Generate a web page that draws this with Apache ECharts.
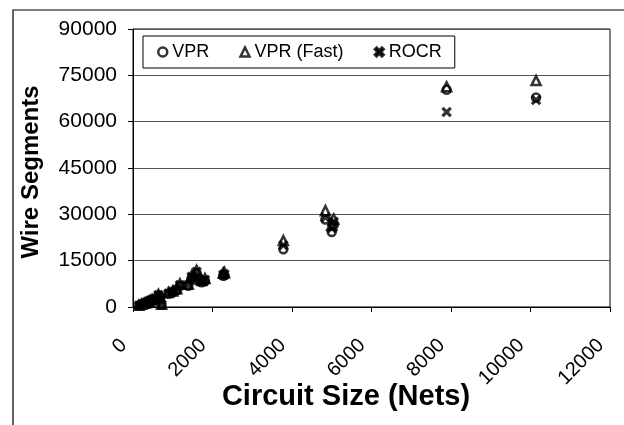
<!DOCTYPE html>
<html>
<head>
<meta charset="utf-8">
<script src="https://cdn.jsdelivr.net/npm/echarts@6/dist/echarts.min.js"></script>
<style>
html,body{margin:0;padding:0;background:#fff;}
#chart{width:624px;height:425px;}
</style>
</head>
<body>
<div id="chart"></div>
<script>
// Circuit sizes (nets) and wire segments per router
var circuitNets = [150, 220, 280, 330, 380, 430, 480, 560, 640, 720, 680, 890, 1000, 1100, 1180, 1390, 1475, 1600, 1730, 1810, 1550, 2270, 2300, 3782, 4840, 5000, 5050, 7890, 10140];
var vprSegments = [500, 800, 1100, 1300, 1600, 1900, 2200, 2500, 3800, 700, 2800, 4300, 4800, 5400, 6900, 6900, 9500, 11000, 8000, 8500, 8800, 10100, 10300, 18700, 28300, 24300, 26500, 70300, 67800];
var vprFastSegments = [550, 850, 1200, 1400, 1700, 2050, 2400, 2700, 4100, 900, 3000, 4700, 5200, 5900, 7500, 7400, 10200, 11900, 8600, 9200, 9500, 11000, 11200, 21500, 31200, 26500, 28500, 71300, 73300];
var rocrSegments = [520, 820, 1150, 1350, 1650, 2000, 2300, 2600, 3900, 800, 2900, 4400, 5000, 5600, 7100, 7100, 9800, 11400, 8200, 8800, 9100, 10400, 10600, 20000, 29000, 25500, 27600, 63100, 67000];
var seriesNames = ['VPR', 'VPR (Fast)', 'ROCR'];
var yTicks = {min: 0, max: 90000, interval: 15000};
var xTicks = {min: 0, max: 12000, interval: 2000};

function pairs(ys) { return circuitNets.map(function (x, i) { return [x, ys[i]]; }); }

var FONT = '"Liberation Sans", Arial, sans-serif';
var crossPath = 'path://M0,2L2,0L5,3L8,0L10,2L7,5L10,8L8,10L5,7L2,10L0,8L3,5Z';

var chart = echarts.init(document.getElementById('chart'));
chart.setOption({
  animation: false,
  backgroundColor: '#fff',
  textStyle: {fontFamily: FONT},
  graphic: [
    {type: 'rect', shape: {x: 13, y: 10, width: 700, height: 500}, style: {fill: 'none', stroke: '#000', lineWidth: 1.2}, z: -10},
    {type: 'text', x: 346, y: 382, style: {text: 'Circuit Size (Nets)', font: 'bold 29px ' + FONT, fill: '#000', textAlign: 'center', textVerticalAlign: 'top'}}
  ],
  grid: {left: 133, right: 14, top: 29, bottom: 118, show: true, borderColor: '#000', borderWidth: 1, backgroundColor: 'transparent'},
  legend: {
    left: 143, top: 36,
    orient: 'horizontal',
    data: seriesNames,
    itemWidth: 9, itemHeight: 9, itemGap: 30,
    padding: [7, 13, 7, 14],
    borderColor: '#000', borderWidth: 1, backgroundColor: '#fff',
    itemStyle: {borderWidth: 2.5},
    textStyle: {fontSize: 18, color: '#000', fontFamily: FONT}
  },
  xAxis: {
    type: 'value', min: xTicks.min, max: xTicks.max, interval: xTicks.interval,
    axisLine: {lineStyle: {color: '#000', width: 1}},
    axisTick: {show: true, length: 5, lineStyle: {color: '#000'}},
    splitLine: {show: false},
    axisLabel: {rotate: 45, margin: 26, padding: [0, 13, 0, 0], fontSize: 20, color: '#000', fontFamily: FONT, formatter: function (v) { return String(v); }}
  },
  yAxis: {
    type: 'value', min: yTicks.min, max: yTicks.max, interval: yTicks.interval,
    name: 'Wire Segments', nameLocation: 'middle', nameGap: 90, nameRotate: 90,
    nameTextStyle: {fontSize: 24, fontWeight: 'bold', color: '#000', fontFamily: FONT, padding: [0, 8, 0, 0]},
    axisLine: {show: true, lineStyle: {color: '#000', width: 1}},
    axisTick: {show: true, length: 5, lineStyle: {color: '#000'}},
    splitLine: {show: true, lineStyle: {color: '#555', width: 1}},
    axisLabel: {margin: 16, fontSize: 21, color: '#000', fontFamily: FONT, formatter: function (v) { return String(v); }}
  },
  series: [
    {name: seriesNames[0], type: 'scatter', symbol: 'circle', symbolSize: 8, data: pairs(vprSegments),
     itemStyle: {color: 'rgba(0,0,0,0)', borderColor: '#000', borderWidth: 2.5}},
    {name: seriesNames[1], type: 'scatter', symbol: 'triangle', symbolSize: 9, data: pairs(vprFastSegments),
     itemStyle: {color: 'rgba(0,0,0,0)', borderColor: '#000', borderWidth: 2.5}},
    {name: seriesNames[2], type: 'scatter', symbol: crossPath, symbolSize: 10, data: pairs(rocrSegments),
     itemStyle: {color: '#000', borderWidth: 0.5, borderColor: '#000'}}
  ]
});
</script>
</body>
</html>
